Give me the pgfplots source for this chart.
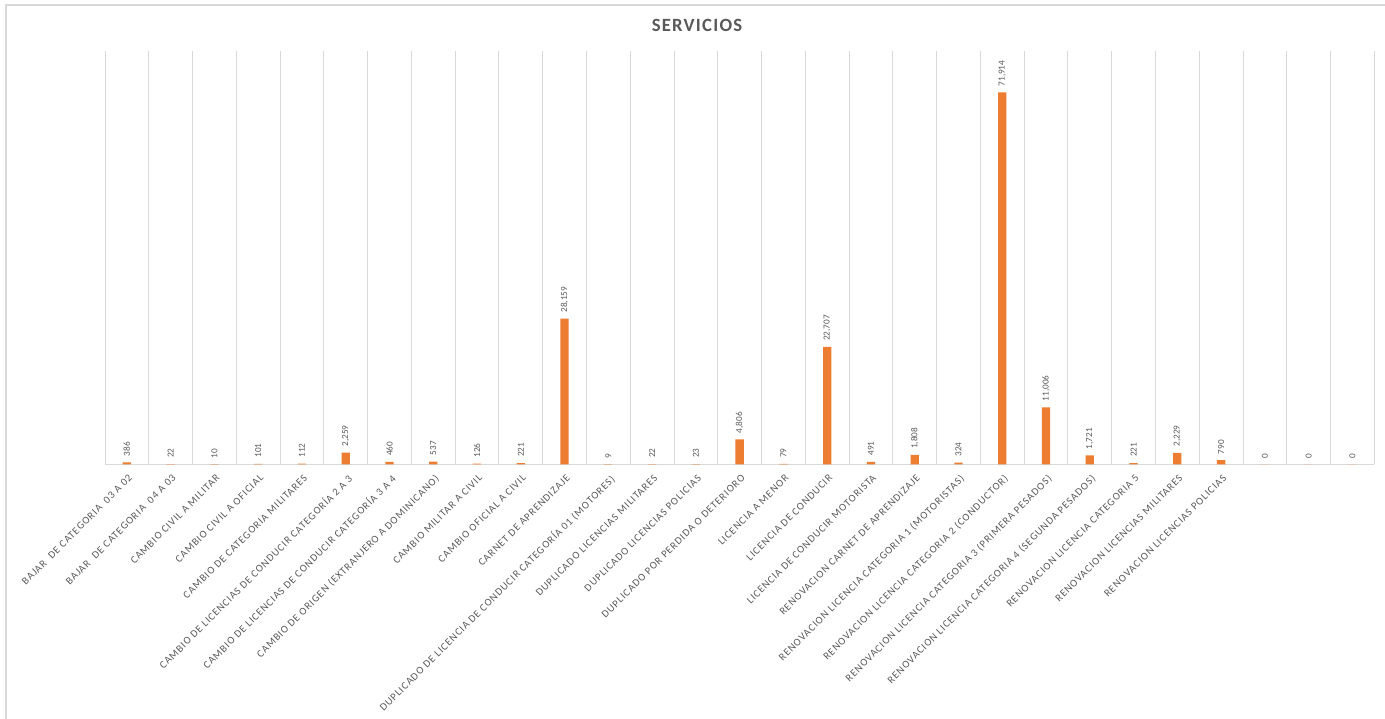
\documentclass[border=0pt]{standalone}
\usepackage{fontspec}
\setmainfont{Carlito}
\usepackage{pgfplots}
\pgfplotsset{compat=1.18}
\definecolor{barorange}{HTML}{ED7D31}
\definecolor{gridgray}{HTML}{D9D9D9}
\definecolor{txtgray}{HTML}{595959}
\newfontfamily\lblfont[LetterSpace=8.5]{Carlito}
\newfontfamily\ttlfont[LetterSpace=6.5]{Carlito}

\begin{document}
\begin{tikzpicture}[x=1pt,y=1pt]
\useasboundingbox (0,0) rectangle (1385,719);
\draw[gridgray, line width=1.5pt] (6,0) -- (6,714) -- (1385,714);
\node[font=\ttlfont\bfseries\fontsize{18.7}{20}\selectfont, text=txtgray] at (697,694) {SERVICIOS};
\begin{axis}[
  at={(105pt,254.7pt)}, anchor=south west,
  scale only axis, width=1269.3pt, height=413.6pt,
  ybar, bar width=8.3pt,
  xmin=-0.5, xmax=28.5, ymin=0, ymax=80000,
  xtick={0,...,28},
  xticklabels={
    {BAJAR\ \ DE CATEGORIA\ \ 03 A 02},
    {BAJAR\ \ DE CATEGORIA\ \ 04 A 03},
    {CAMBIO CIVIL A MILITAR},
    {CAMBIO CIVIL A OFICIAL},
    {CAMBIO DE CATEGORIA MILITARES},
    {CAMBIO DE LICENCIAS DE CONDUCIR CATEGORÍA 2 A 3},
    {CAMBIO DE LICENCIAS DE CONDUCIR CATEGORÍA 3 A 4},
    {CAMBIO DE ORIGEN (EXTRANJERO A DOMINICANO)},
    {CAMBIO MILITAR A CIVIL},
    {CAMBIO OFICIAL A CIVIL},
    {CARNET DE APRENDIZAJE},
    {DUPLICADO DE LICENCIA DE CONDUCIR CATEGORÍA 01 (MOTORES)},
    {DUPLICADO LICENCIAS MILITARES},
    {DUPLICADO LICENCIAS POLICIAS},
    {DUPLICADO POR PERDIDA O DETERIORO},
    {LICENCIA A MENOR},
    {LICENCIA DE CONDUCIR},
    {LICENCIA DE CONDUCIR MOTORISTA},
    {RENOVACION CARNET DE APRENDIZAJE},
    {RENOVACION LICENCIA CATEGORIA 1 (MOTORISTAS)},
    {RENOVACION LICENCIA CATEGORIA 2 (CONDUCTOR)},
    {RENOVACION LICENCIA CATEGORIA 3 (PRIMERA PESADOS)},
    {RENOVACION LICENCIA CATEGORIA 4 (SEGUNDA PESADOS)},
    {RENOVACION LICENCIA CATEGORIA 5},
    {RENOVACION LICENCIAS MILITARES},
    {RENOVACION LICENCIAS POLICIAS},
    {}, {}, {}},
  minor xtick={-0.5,0.5,...,28.5},
  xminorgrids, minor grid style={gridgray, line width=0.9pt},
  major tick length=0pt, minor tick length=0pt,
  axis x line*=bottom, axis y line=none,
  x axis line style={gridgray, line width=1.2pt},
  ytick=\empty,
  xticklabel style={yshift=-8pt, xshift=1pt, rotate=45, anchor=north east, inner sep=1pt,
    font=\lblfont\fontsize{10.5}{12}\selectfont, text=txtgray},
  nodes near coords,
  every node near coord/.append style={rotate=90, anchor=west, inner xsep=6pt, inner ysep=0pt,
    font=\fontsize{9.2}{10}\selectfont, text=txtgray},
  /pgf/number format/.cd, 1000 sep={,}, fixed, precision=0, assume math mode=true,
]
\addplot[fill=barorange, draw=none] coordinates {
  (0,386) (1,22) (2,10) (3,101) (4,112) (5,2259) (6,460) (7,537) (8,126) (9,221)
  (10,28159) (11,9) (12,22) (13,23) (14,4806) (15,79) (16,22707) (17,491) (18,1808)
  (19,324) (20,71914) (21,11006) (22,1721) (23,221) (24,2229) (25,790)
  (26,0) (27,0) (28,0)
};
\end{axis}
\end{tikzpicture}
\end{document}
